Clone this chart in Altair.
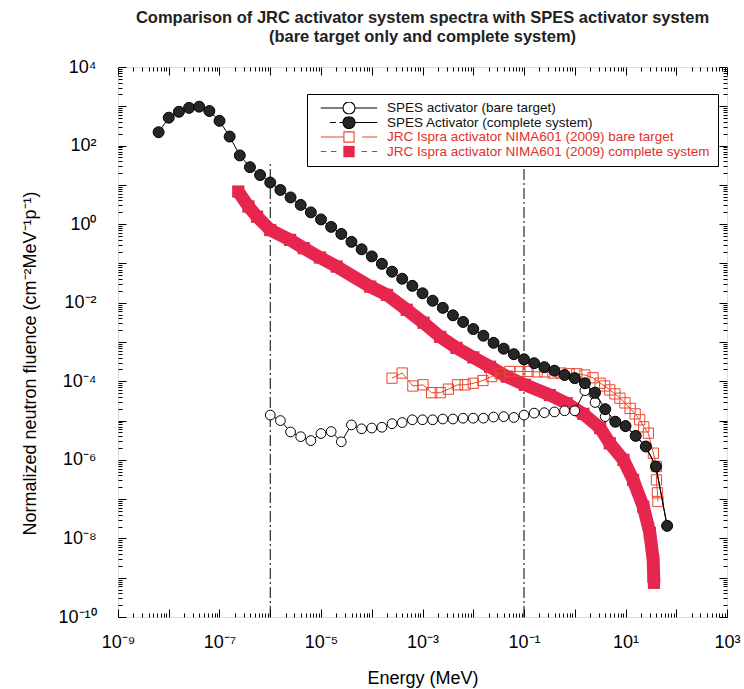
import json
import altair as alt
import pandas as pd

# ---------------- data (log10 values) ----------------
spes_c_logE = [-8.2, -8.0, -7.8, -7.6, -7.4, -7.2, -7.0, -6.8, -6.6, -6.4, -6.2, -6.0,
               -5.8, -5.6, -5.4, -5.2, -5.0, -4.8, -4.6, -4.4, -4.2, -4.0, -3.8, -3.6,
               -3.4, -3.2, -3.0, -2.8, -2.6, -2.4, -2.2, -2.0, -1.8, -1.6, -1.4, -1.2,
               -1.0, -0.8, -0.6, -0.4, -0.2, 0.0, 0.2, 0.4, 0.6, 0.8, 1.0, 1.2, 1.4, 1.6, 1.82]
spes_c_logF = [2.34, 2.71, 2.86, 2.96, 2.99, 2.88, 2.63, 2.23, 1.75, 1.45, 1.25, 1.06,
               0.87, 0.68, 0.49, 0.30, 0.12, -0.07, -0.25, -0.45, -0.64, -0.82, -1.01, -1.21,
               -1.39, -1.57, -1.76, -1.95, -2.13, -2.32, -2.49, -2.67, -2.84, -3.02, -3.17, -3.31,
               -3.44, -3.54, -3.64, -3.73, -3.84, -3.92, -4.05, -4.29, -4.71, -5.03, -5.14, -5.39,
               -5.66, -6.17, -7.68]

spes_b_logE = [-6.0, -5.8, -5.6, -5.4, -5.2, -5.0, -4.8, -4.6, -4.4, -4.2, -4.0, -3.8,
               -3.6, -3.4, -3.2, -3.0, -2.8, -2.6, -2.4, -2.2, -2.0, -1.8, -1.6, -1.4,
               -1.2, -1.0, -0.8, -0.6, -0.4, -0.2, 0.0, 0.2, 0.4, 0.6, 0.8, 1.0, 1.2, 1.4, 1.6, 1.82]
spes_b_logF = [-4.86, -5.00, -5.29, -5.41, -5.51, -5.33, -5.28, -5.54, -5.11, -5.21, -5.19, -5.17,
               -5.08, -5.05, -4.98, -4.98, -4.98, -4.96, -4.96, -4.94, -4.94, -4.94, -4.91, -4.90,
               -4.92, -4.86, -4.81, -4.80, -4.78, -4.75, -4.75, -4.24, -4.54, -4.90, -5.03, -5.14,
               -5.39, -5.66, -6.17, -7.68]

jrc_b_logE = [-3.60, -3.40, -3.19, -2.99, -2.82, -2.65, -2.49, -2.31, -2.16, -2.00, -1.81, -1.64,
              -1.47, -1.28, -1.08, -0.92, -0.74, -0.59, -0.43, -0.27, -0.11, 0.04, 0.20, 0.36,
              0.50, 0.59, 0.69, 0.79, 0.89, 0.99, 1.09, 1.19, 1.28, 1.36, 1.45, 1.55, 1.61,
              1.61, 1.63, 1.64]
jrc_b_logF = [-3.92, -3.79, -4.12, -4.09, -4.29, -4.29, -4.20, -4.09, -4.09, -4.05, -3.98, -3.88,
              -3.81, -3.75, -3.75, -3.75, -3.76, -3.76, -3.79, -3.79, -3.81, -3.81, -3.84, -3.91,
              -4.05, -4.12, -4.22, -4.32, -4.43, -4.55, -4.69, -4.83, -4.98, -5.16, -5.32, -5.83,
              -6.17, -6.51, -6.84, -7.06]

jrc_c_logE = [-6.63, -6.43, -6.26, -6.00, -5.61, -5.34, -5.02, -4.69, -4.03, -3.70, -3.31,
              -2.98, -2.65, -2.33, -2.00, -1.67, -1.34, -0.98, -0.49, -0.16, 0.17, 0.50, 0.69,
              0.96, 1.15, 1.35, 1.48, 1.545, 1.56]
jrc_c_logF = [0.83, 0.45, 0.19, -0.15, -0.40, -0.61, -0.85, -1.08, -1.59, -1.80, -2.18,
              -2.51, -2.87, -3.15, -3.39, -3.63, -3.88, -4.09, -4.35, -4.56, -4.83, -5.19, -5.58,
              -6.00, -6.51, -7.19, -7.86, -8.55, -9.13]

ref_energies = [1e-6, 1e-1]
ref_bottom = 1e-10
ref_top = 35.0

series_names = ["SPES activator (bare target)",
                "SPES Activator (complete system)",
                "JRC Ispra activator NIMA601 (2009) bare target",
                "JRC Ispra activator NIMA601 (2009) complete system"]

title_lines = ["Comparison of JRC activator system spectra with SPES activator system",
               "(bare target only and complete system)"]

# ---------------- styling ----------------
FONT = "Liberation Sans"
BAND = "#e6264e"
OPEN_RED = "#e8462e"
LABEL_RED = "#e0302c"
DOT = "#262626"


def frame(logE, logF):
    return pd.DataFrame({"E": [10 ** v for v in logE],
                         "F": [10 ** v for v in logF],
                         "i": list(range(len(logE)))})


spes_c = frame(spes_c_logE, spes_c_logF)
spes_b = frame(spes_b_logE, spes_b_logF)
jrc_b = frame(jrc_b_logE, jrc_b_logF)
jrc_c = frame(jrc_c_logE, jrc_c_logF)
refs = pd.DataFrame({"E": ref_energies, "F": [ref_bottom] * 2, "F2": [ref_top] * 2})
legend_df = pd.DataFrame({"series": pd.Series([], dtype=str),
                          "E": pd.Series([], dtype=float),
                          "F": pd.Series([], dtype=float)})

SUPS = {"-": "\u207b", "0": "\u2070", "1": "\u00b9", "2": "\u00b2", "3": "\u00b3",
        "4": "\u2074", "5": "\u2075", "6": "\u2076", "7": "\u2077", "8": "\u2078", "9": "\u2079"}
exp_labels = ["10" + "".join(SUPS[c] for c in str(e)) for e in range(-10, 5)]
LABARR = json.dumps(exp_labels, ensure_ascii=False)

x_ticks = [m * 10.0 ** d for d in range(-9, 3) for m in range(1, 10)] + [1e3]
y_ticks = [m * 10.0 ** d for d in range(-10, 4) for m in range(1, 10)] + [1e4]

LG = "(log(datum.value)/LN10)"
MAJ = f"abs({LG} - round({LG})) < 0.001"
xlab = f"({MAJ} && round({LG}) % 2 != 0) ? {LABARR}[round({LG}) + 10] : ''"
ylab = f"({MAJ} && round({LG}) % 2 == 0) ? {LABARR}[round({LG}) + 10] : ''"
tick_cond = {"condition": {"test": MAJ, "value": -8}, "value": -4}

xs = alt.Scale(type="log", domain=[1e-9, 1e3], nice=False)
ys = alt.Scale(type="log", domain=[1e-10, 1e4], nice=False)

xaxis = alt.Axis(values=x_ticks, labelExpr=xlab, tickSize=tick_cond, tickColor="black",
                 labelPadding=24, grid=False, domain=False, labelFont=FONT, labelFontSize=18,
                 labelColor="black", labelOverlap=False, labelFlush=False,
                 title="Energy (MeV)", titleFont=FONT, titleFontSize=18, titleFontWeight="normal",
                 titleColor="black", titlePadding=14)
yaxis = alt.Axis(values=y_ticks, labelExpr=ylab, tickSize=tick_cond, tickColor="black",
                 labelPadding=30, grid=False, domain=False, labelFont=FONT, labelFontSize=18,
                 labelColor="black", labelOverlap=False, labelFlush=False,
                 title="Normalized neutron fluence (cm\u207b\u00b2MeV\u207b\u00b9p\u207b\u00b9)",
                 titleFont=FONT, titleFontSize=18, titleFontWeight="normal",
                 titleColor="black", titlePadding=18, titleY=296)
xaxis2 = alt.Axis(orient="top", values=x_ticks, labels=False, tickSize=tick_cond,
                  tickColor="black", grid=False, domain=False, title=None)
yaxis2 = alt.Axis(orient="right", values=y_ticks, labels=False, tickSize=tick_cond,
                  tickColor="black", grid=False, domain=False, title=None)

X = alt.X("E:Q", scale=xs, axis=xaxis)
Y = alt.Y("F:Q", scale=ys, axis=yaxis)

rules = alt.Chart(refs).mark_rule(color="black", strokeWidth=1, strokeDash=[11, 3, 2, 3]).encode(
    x=X, y=Y, y2="F2:Q")

jc_line = alt.Chart(jrc_c).mark_line(color=BAND, strokeWidth=13, strokeJoin="round").encode(
    x=X, y=Y, order="i:Q")
jc_pts = alt.Chart(jrc_c).mark_point(shape="square", filled=True, size=150, color=BAND,
                                     opacity=1).encode(x=X, y=Y)

jb_line = alt.Chart(jrc_b).mark_line(color=OPEN_RED, strokeWidth=1).encode(x=X, y=Y, order="i:Q")
jb_pts = alt.Chart(jrc_b).mark_point(shape="square", size=105, color=OPEN_RED, strokeWidth=1,
                                     opacity=1).encode(x=X, y=Y)

sb_line = alt.Chart(spes_b).mark_line(color="black", strokeWidth=1).encode(x=X, y=Y, order="i:Q")
sb_pts = alt.Chart(spes_b).mark_point(shape="circle", filled=True, fill="white", stroke="black",
                                      strokeWidth=1, size=95, opacity=1).encode(x=X, y=Y)

sc_line = alt.Chart(spes_c).mark_line(color="black", strokeWidth=1).encode(x=X, y=Y, order="i:Q")
sc_pts = alt.Chart(spes_c).mark_point(shape="circle", filled=True, fill=DOT, stroke="black",
                                      strokeWidth=1, size=120, opacity=1).encode(x=X, y=Y)

CIRC = ("M 1 0 C 1 0.5523 0.5523 1 0 1 C -0.5523 1 -1 0.5523 -1 0 "
        "C -1 -0.5523 -0.5523 -1 0 -1 C 0.5523 -1 1 -0.5523 1 0 Z")
SQR = "M -0.85 -0.85 L 0.85 -0.85 L 0.85 0.85 L -0.85 0.85 Z"
legend_paths = [
    "M -4.7 0 L -1 0 M 1 0 L 4.7 0 " + CIRC,
    "M -3.2 0 L -2.2 0 M -1.6 0 L -1 0 M 1 0 L 4.7 0 " + CIRC,
    "M -4.7 0 L -0.85 0 " + SQR + " M 2.2 0 L 4.7 0",
    "M -4.7 0 L -3.8 0 M -3.0 0 L -2.1 0 " + SQR + " M 2.1 0 L 3.0 0 M 3.8 0 L 4.7 0",
]
legend_fill = ["white", DOT, "white", BAND]
legend_stroke = ["black", "black", OPEN_RED, BAND]

leg = alt.Legend(title=None, orient="none", legendX=189, legendY=27, direction="vertical",
                 padding=8, strokeColor="black", fillColor="white", labelFont=FONT,
                 labelFontSize=13.5, labelLimit=500, symbolSize=144, symbolStrokeWidth=1.1,
                 rowPadding=0.5, clipHeight=12, symbolOffset=27, labelOffset=31,
                 labelColor={"expr": f"indexof(datum.label, 'JRC') >= 0 ? '{LABEL_RED}' : '#111111'"})

legend_layer = alt.Chart(legend_df).mark_point(filled=True, opacity=1).encode(
    x=X, y=Y,
    shape=alt.Shape("series:N", scale=alt.Scale(domain=series_names, range=legend_paths), legend=leg),
    fill=alt.Fill("series:N", scale=alt.Scale(domain=series_names, range=legend_fill), legend=leg),
    stroke=alt.Stroke("series:N", scale=alt.Scale(domain=series_names, range=legend_stroke), legend=leg),
)

inner = alt.layer(rules, jc_line, jc_pts, jb_line, jb_pts, sb_line, sb_pts, sc_line, sc_pts,
                  legend_layer)

mirror = alt.Chart(spes_c).mark_point(opacity=0).encode(
    x=alt.X("E:Q", scale=xs, axis=xaxis2),
    y=alt.Y("F:Q", scale=ys, axis=yaxis2),
)

chart = alt.layer(inner, mirror).resolve_axis(x="independent", y="independent").properties(
    width=609, height=550,
    autosize=alt.AutoSizeParams(type="none"),
    padding={"left": 118, "top": 67, "right": 17, "bottom": 72},
    title=alt.TitleParams(title_lines, font=FONT, fontSize=16.5, fontWeight="bold", anchor="middle",
                          color="#222222", offset=13, lineHeight=19),
).configure_view(stroke="black", strokeWidth=1.2).configure(background="white")

chart.save("out.html", embed_options={"renderer": "svg", "actions": False})
